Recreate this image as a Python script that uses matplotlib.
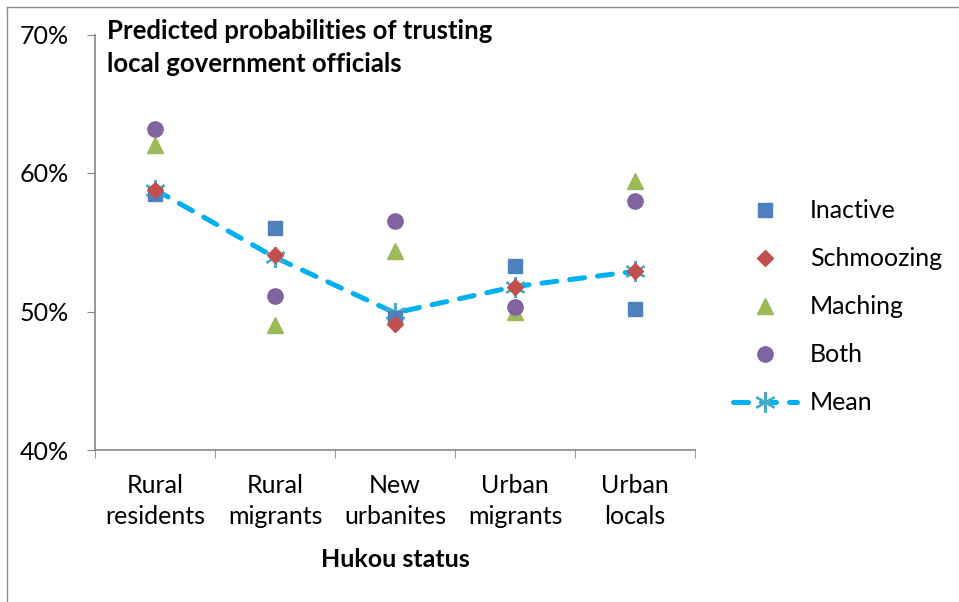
import matplotlib
matplotlib.use("Agg")
import matplotlib.pyplot as plt
from matplotlib.lines import Line2D
from matplotlib.ticker import FuncFormatter

plt.rcParams['font.family'] = ['Lato', 'DejaVu Sans']

# data (percent)
categories = ["Rural\nresidents", "Rural\nmigrants", "New\nurbanites", "Urban\nmigrants", "Urban\nlocals"]
inactive = [58.5, 56.0, 49.5, 53.3, 50.2]
schmoozing = [58.8, 54.1, 49.1, 51.8, 52.9]
maching = [62.0, 49.0, 54.4, 50.0, 59.4]
both = [63.2, 51.1, 56.5, 50.3, 58.0]
mean = [58.8, 53.9, 49.9, 51.8, 52.9]

grey = "#868686"
x = [i + 0.5 for i in range(len(categories))]

fig = plt.figure(figsize=(9.59, 6.02), dpi=100)
ax = fig.add_axes([95/959, 1-450/602, 600/959, 415.5/602])

# mean line goes under the markers
ln, = ax.plot(x, mean, color="#00B0F0", lw=3.6, dash_capstyle="round",
              marker=(6, 2, 0), ms=15, mec="#4BACC6", mfc="#4BACC6", mew=1.6,
              label="Mean", zorder=2)
ln.set_dashes((3, 2.6))
ax.plot(x, inactive, ls="none", marker="s", ms=10.5, color="#4F81BD", label="Inactive", zorder=3)
ax.plot(x, schmoozing, ls="none", marker="D", ms=8, color="#C0504D", label="Schmoozing", zorder=3)
ax.plot(x, maching, ls="none", marker="^", ms=11, color="#9BBB59", label="Maching", zorder=3)
ax.plot(x, both, ls="none", marker="o", ms=11, color="#8064A2", label="Both", zorder=3)

ax.set_xlim(0, len(categories))
ax.set_ylim(40, 70)
ax.set_yticks([40, 50, 60, 70])
ax.yaxis.set_major_formatter(FuncFormatter(lambda v, p: "%d%%" % v))
ax.set_xticks(x, categories, linespacing=1.45)
ax.set_xticks(range(len(categories) + 1), minor=True)
ax.tick_params(axis="x", which="major", length=0, pad=17, labelsize=18)
ax.tick_params(axis="x", which="minor", length=6, color=grey, direction="out")
ax.tick_params(axis="y", length=6, color=grey, pad=13, labelsize=18)

for s in ["top", "right"]:
    ax.spines[s].set_visible(False)
for s in ["left", "bottom"]:
    ax.spines[s].set_color(grey)
    ax.spines[s].set_linewidth(1.2)

ax.set_xlabel("Hukou status", fontsize=18, fontweight="bold", labelpad=14)

fig.text(107/959, 1-19/602, "Predicted probabilities of trusting\nlocal government officials",
         fontsize=18.5, fontweight="bold", va="top", ha="left", linespacing=1.45)

handles, labels = ax.get_legend_handles_labels()
order = [1, 2, 3, 4, 0]
ax.legend([handles[i] for i in order], [labels[i] for i in order],
          loc="center left", bbox_to_anchor=(733/959, 1-307/602),
          bbox_transform=fig.transFigure, frameon=False, fontsize=18,
          borderpad=0, borderaxespad=0, labelspacing=1.0,
          handlelength=2.56, handletextpad=0.52, numpoints=1)

# chart area border (only left and top edges are in view)
fig.add_artist(Line2D([7/959, 7/959], [0, 1-7/602], transform=fig.transFigure, color="#8c8c8c", lw=1))
fig.add_artist(Line2D([7/959, 1], [1-7/602, 1-7/602], transform=fig.transFigure, color="#8c8c8c", lw=1))

fig.savefig("out.png", dpi=100)
